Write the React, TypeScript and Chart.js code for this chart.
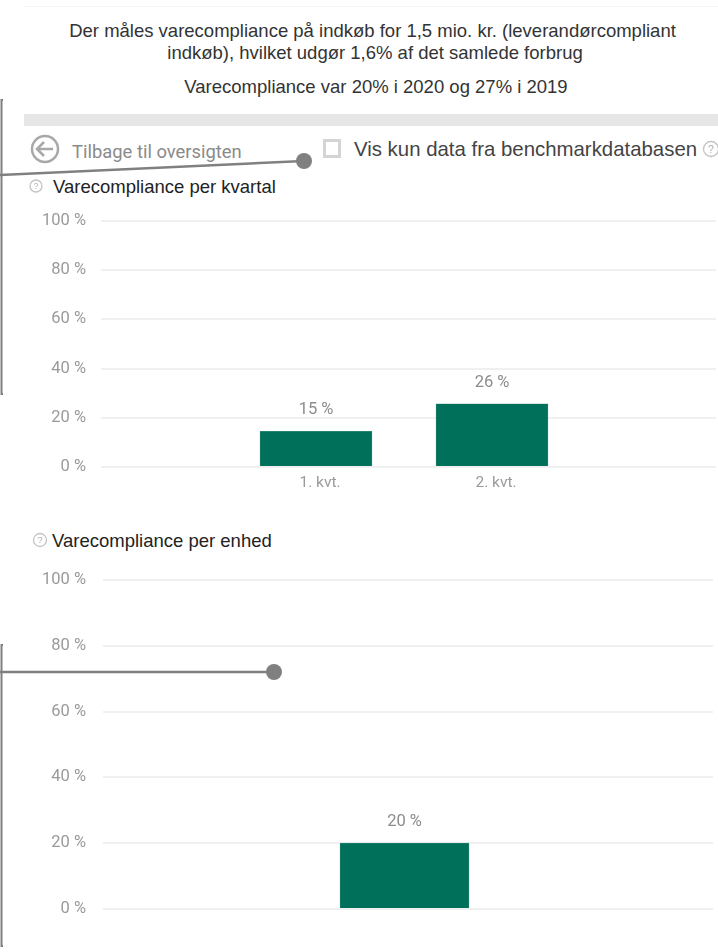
import React, { useEffect, useRef } from "react";
import { Chart, registerables } from "chart.js";

Chart.register(...registerables);

const quarterLabels = ["1. kvt.", "2. kvt."];
const quarterValues = [14.5, 25.7];
const unitValues = [20];
const yTicks = [0, 20, 40, 60, 80, 100];

const sans = "'Liberation Sans', Arial, sans-serif";
const chartFont = "Roboto, sans-serif";
const green = "#01705a";

const valueLabels = {
  id: "valueLabels",
  afterDatasetsDraw(chart: any) {
    const { ctx } = chart;
    const meta = chart.getDatasetMeta(0);
    ctx.save();
    ctx.font = `16.5px ${chartFont}`;
    ctx.fillStyle = "#8c8c8c";
    ctx.textAlign = "center";
    ctx.textBaseline = "middle";
    meta.data.forEach((bar: any, i: number) => {
      const v = chart.data.datasets[0].data[i].y;
      ctx.fillText(`${Math.round(v)} %`, bar.x, bar.y - 21);
    });
    ctx.restore();
  },
};

function makeChart(
  canvas: HTMLCanvasElement,
  values: number[],
  labels: string[],
  xMin: number,
  xMax: number,
  barThickness: number,
  yWidth: number,
  yPadding: number,
  pad: { top: number; right: number },
  xHeight: number,
  labelOffset: number
) {
  return new Chart(canvas, {
    type: "bar",
    data: {
      datasets: [
        {
          data: values.map((y, i) => ({ x: i + 1, y })),
          backgroundColor: green,
          borderColor: "#4f9c8b",
          borderWidth: 0.5,
          barThickness,
        },
      ],
    },
    plugins: [valueLabels],
    options: {
      animation: false,
      responsive: false,
      layout: { padding: { top: pad.top, right: pad.right, left: 0, bottom: 0 } },
      plugins: { legend: { display: false }, tooltip: { enabled: false } },
      scales: {
        x: {
          type: "linear",
          offset: false,
          min: xMin,
          max: xMax,
          grid: { display: false, drawTicks: false },
          border: { display: false },
          afterBuildTicks: (scale: any) => {
            scale.ticks = labels.map((_, i) => ({ value: i + 1 }));
          },
          afterFit: (scale: any) => {
            scale.height = xHeight;
          },
          ticks: {
            display: labels.length > 0,
            autoSkip: false,
            maxRotation: 0,
            padding: 7,
            labelOffset,
            color: "#9a9a9a",
            font: { family: chartFont, size: 15.5 },
            callback: (v: any) => labels[Number(v) - 1] ?? "",
          },
        },
        y: {
          min: 0,
          max: 100,
          border: { display: false },
          grid: { color: "#f0f0f0", lineWidth: 2, drawTicks: false },
          afterBuildTicks: (scale: any) => {
            scale.ticks = yTicks.map((value) => ({ value }));
          },
          afterFit: (scale: any) => {
            scale.width = yWidth;
          },
          ticks: {
            padding: yPadding,
            color: "#9a9a9a",
            font: { family: chartFont, size: 16.5 },
            callback: (v: any) => `${v} %`,
          },
        },
      },
    } as any,
  });
}

function Text(props: {
  x?: number;
  cx?: number;
  y: number;
  size: number;
  color: string;
  font?: string;
  spacing?: number;
  children: React.ReactNode;
}) {
  const { x, cx, y, size, color, font, spacing, children } = props;
  return (
    <div
      style={{
        position: "absolute",
        left: cx !== undefined ? cx : x,
        top: y,
        transform: cx !== undefined ? "translate(-50%,-50%)" : "translateY(-50%)",
        fontFamily: font ?? sans,
        fontSize: size,
        color,
        letterSpacing: spacing ?? 0,
        whiteSpace: "nowrap",
        lineHeight: 1.2,
      }}
    >
      {children}
    </div>
  );
}

function Help({ x, y, r }: { x: number; y: number; r: number }) {
  return (
    <g>
      <circle cx={x} cy={y} r={r} fill="none" stroke="#c4c4c4" strokeWidth={1.3} />
      <text x={x} y={y + r * 0.5} textAnchor="middle" fontSize={r * 1.4} fill="#b0b0b0" fontFamily={sans}>
        ?
      </text>
    </g>
  );
}

export default function App() {
  const ref1 = useRef<HTMLCanvasElement>(null);
  const ref2 = useRef<HTMLCanvasElement>(null);

  useEffect(() => {
    document.body.style.margin = "0";
    document.body.style.background = "#fff";
    const a = makeChart(ref1.current!, quarterValues, quarterLabels, 1 - 215 / 176, 1 + 400 / 176, 112, 101, 15, { top: 14, right: 2 }, 33, 4);
    const b = makeChart(ref2.current!, unitValues, [], 1 - 3.015, 1 + 3.085, 129, 103, 17, { top: 8, right: 5 }, 31, 0);
    return () => {
      a.destroy();
      b.destroy();
    };
  }, []);

  return (
    <div style={{ position: "relative", width: 718, height: 952, overflow: "hidden", background: "#fff", filter: "blur(0.45px)" }}>
      <div style={{ position: "absolute", left: 24, top: 6, width: 694, height: 1, background: "#f6f6f6" }} />
      <Text cx={372.5} y={31} size={18.5} color="#333">Der måles varecompliance på indkøb for 1,5 mio. kr. (leverandørcompliant</Text>
      <Text cx={375} y={53} size={18.5} color="#333">indkøb), hvilket udgør 1,6% af det samlede forbrug</Text>
      <Text cx={376} y={87} size={18.5} color="#333">Varecompliance var 20% i 2020 og 27% i 2019</Text>
      <div style={{ position: "absolute", left: 24, top: 114, width: 694, height: 12, background: "#e6e6e6" }} />
      <Text x={72} y={152} size={18.4} color="#8a8a8a" font={chartFont}>Tilbage til oversigten</Text>
      <div style={{ position: "absolute", left: 323, top: 139, width: 12, height: 13, border: "3px solid #d4d4d4" }} />
      <Text x={354} y={149} size={20.4} color="#444">Vis kun data fra benchmarkdatabasen</Text>
      <Text x={53} y={187} size={18.5} color="#222">Varecompliance per kvartal</Text>
      <Text x={52} y={541} size={18.5} color="#222">Varecompliance per enhed</Text>

      <canvas ref={ref1} width={718} height={304} style={{ position: "absolute", left: 0, top: 196, width: 718, height: 304 }} />
      <canvas ref={ref2} width={718} height={387} style={{ position: "absolute", left: 0, top: 553, width: 718, height: 387 }} />

      <svg width={718} height={952} style={{ position: "absolute", left: 0, top: 0 }}>
        <circle cx={45} cy={149} r={13} fill="none" stroke="#a8a8a8" strokeWidth={2.5} />
        <path d="M53 149H38M44 142l-7 7 7 7" fill="none" stroke="#a8a8a8" strokeWidth={2.5} />
        <Help x={711} y={149} r={7.5} />
        <Help x={36} y={186} r={6} />
        <Help x={40} y={540} r={6.5} />
        <path d="M3 100H1.5V394H3" fill="none" stroke="#808080" strokeWidth={2} />
        <path d="M0 175L304 161" fill="none" stroke="#808080" strokeWidth={2.5} />
        <circle cx={304} cy={161} r={8} fill="#808080" />
        <path d="M3 645H1.5V946H3" fill="none" stroke="#808080" strokeWidth={2} />
        <path d="M0 672H274" fill="none" stroke="#808080" strokeWidth={2.5} />
        <circle cx={274} cy={672} r={8} fill="#808080" />
      </svg>
    </div>
  );
}
